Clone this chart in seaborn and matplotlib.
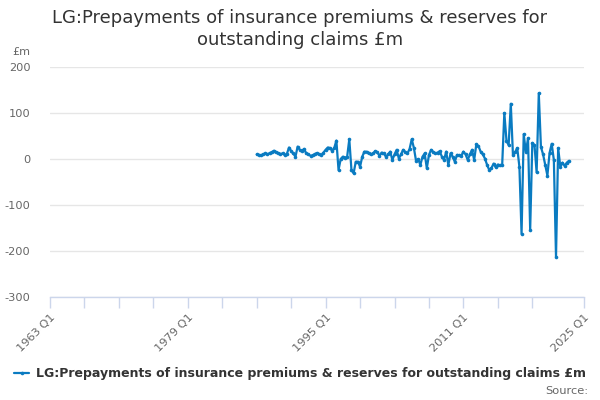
import matplotlib
matplotlib.use("Agg")
import matplotlib.pyplot as plt
import seaborn as sns
import pandas as pd
import numpy as np

title = "LG:Prepayments of insurance premiums & reserves for\noutstanding claims £m"
series_name = "LG:Prepayments of insurance premiums & reserves for outstanding claims £m"
start_year = 1987
start_quarter = 1
values = [
    10, 9, 8, 10, 12, 10, 13, 15, 18, 15, 13, 11, 12, 9, 11, 25,
    17, 12, 5, 27, 20, 18, 22, 12, 10, 7, 8, 11, 13, 10, 9, 14,
    20, 25, 24, 18, 24, 40, -24, 0, 5, 3, 5, 43, -24, -31, -6, -6,
    -17, 5, 16, 16, 12, 10, 12, 17, 15, 7, 14, 12, 5, 10, 16, -2,
    10, 20, 1, 10, 20, 15, 12, 22, 43, 24, -4, 0, -13, 5, 12, -20,
    9, 20, 15, 12, 14, 17, 5, -2, 16, -13, 12, 5, -6, 9, 8, 7,
    16, 10, -2, 10, 20, -2, 32, 28, 16, 10, 1, -13, -24, -20, -10, -18,
    -12, -14, -13, 100, 40, 30, 120, 9, 15, 24, -17, -163, 54, 15, 45, -154,
    35, 30, -29, 143, 26, 10, -13, -36, 13, 33, -2, -213, 24, -17, -8, -15,
    -8, -4,
]
ytick_values = [200, 100, 0, -100, -200, -300]
xtick_years = [1963, 1967, 1971, 1975, 1979, 1983, 1987, 1991, 1995, 1999,
               2003, 2007, 2011, 2015, 2019, 2025]
xtick_labelled = [1963, 1979, 1995, 2011, 2025]

periods = pd.period_range(f"{start_year}Q{start_quarter}", periods=len(values), freq="Q")
df = pd.DataFrame({
    "t": [p.year + (p.quarter - 1) / 4 for p in periods],
    "value": values,
})

sns.set_style("white")
plt.rcParams["font.family"] = ["DejaVu Sans"]

fig = plt.figure(figsize=(6, 4), dpi=100)
ax = fig.add_axes([50 / 600, 1 - 297 / 400, 534 / 600, 230 / 400])

line_color = "#0a7bc1"
sns.lineplot(data=df, x="t", y="value", ax=ax, color=line_color, linewidth=1.6,
             marker="o", markersize=2.6, markeredgewidth=0, label=series_name,
             legend=False)

for s in ["top", "right", "left"]:
    ax.spines[s].set_visible(False)
ax.spines["bottom"].set_color("#ccd6eb")
ax.spines["bottom"].set_linewidth(1)
ax.set_xlabel("")
ax.set_ylabel("")

ax.set_xlim(1963, 2025)
ax.set_ylim(-300, 200)
ax.set_yticks(ytick_values)
ax.set_yticklabels([str(v) for v in ytick_values], color="#666666", fontsize=8.2)
ax.yaxis.grid(True, color="#e6e6e6", linewidth=1)
ax.set_axisbelow(True)

ax.set_xticks(xtick_years)
ax.set_xticklabels([f"{y} Q1" if y in xtick_labelled else "" for y in xtick_years],
                   rotation=45, ha="right", rotation_mode="anchor",
                   color="#666666", fontsize=8.2)
ax.tick_params(axis="x", length=8, width=1, color="#ccd6eb", direction="out", pad=3,
               bottom=True)
ax.tick_params(axis="y", length=0, pad=14)

fig.text(0.5, 1 - 29 / 400, title, ha="center", va="center", fontsize=13,
         color="#333333", linespacing=1.25)
fig.text(12 / 600, 1 - 52 / 400, "£m", ha="left", va="center", fontsize=8,
         color="#666666")

# legend
handles, labels = ax.get_legend_handles_labels()
leg = fig.legend(handles, labels, loc="center", bbox_to_anchor=(0.5, 1 - 374 / 400),
                 frameon=False, prop={"size": 9, "weight": "bold"},
                 handlelength=1.2, handletextpad=0.5, borderaxespad=0)
for t in leg.get_texts():
    t.set_color("#333333")

fig.text(588 / 600, 1 - 391 / 400, "Source:", ha="right", va="center", fontsize=8.2,
         color="#666666")

fig.savefig("out.png", dpi=100)
